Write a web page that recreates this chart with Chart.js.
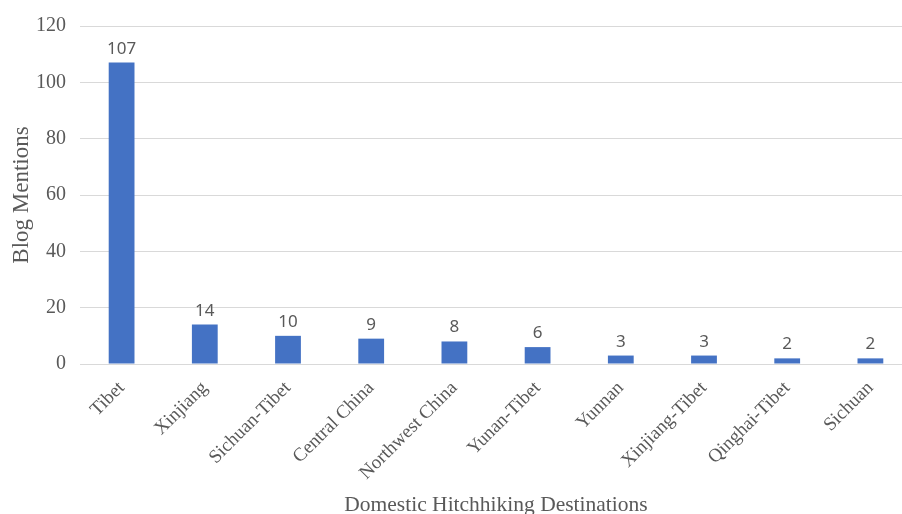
<!DOCTYPE html>
<html>
<head>
<meta charset="utf-8">
<script src="https://cdn.jsdelivr.net/npm/chart.js@4"></script>
<style>
  html, body { margin: 0; padding: 0; background: #fff; overflow: hidden; }
  #wrap { width: 912px; height: 518px; }
</style>
</head>
<body>
<div id="wrap"><canvas id="chart" width="912" height="518"></canvas></div>
<script>
const destinations = ["Tibet", "Xinjiang", "Sichuan-Tibet", "Central China", "Northwest China",
  "Yunan-Tibet", "Yunnan", "Xinjiang-Tibet", "Qinghai-Tibet", "Sichuan"];
const mentions = [107, 14, 10, 9, 8, 6, 3, 3, 2, 2];
const yTicks = [0, 20, 40, 60, 80, 100, 120];

const serif = "'Liberation Serif', 'Times New Roman', serif";
const textGray = "#595959";

// value labels above each bar
const valueLabels = {
  id: "valueLabels",
  afterDatasetsDraw(chart) {
    const ctx = chart.ctx;
    const meta = chart.getDatasetMeta(0);
    ctx.save();
    ctx.font = "17px 'Noto Sans', sans-serif";
    ctx.fillStyle = textGray;
    ctx.textAlign = "center";
    ctx.textBaseline = "alphabetic";
    meta.data.forEach((bar, i) => {
      ctx.fillText(String(mentions[i]), bar.x, bar.y - 9);
    });
    ctx.restore();
  }
};

new Chart(document.getElementById("chart"), {
  type: "bar",
  data: {
    labels: destinations,
    datasets: [{
      data: mentions,
      backgroundColor: "#4472C4",
      barPercentage: 0.31,
      categoryPercentage: 1
    }]
  },
  options: {
    responsive: false,
    animation: false,
    layout: { padding: { top: 6, left: 2, right: 0, bottom: 0 } },
    plugins: { legend: { display: false }, tooltip: { enabled: false } },
    scales: {
      y: {
        min: 0,
        max: 120,
        afterBuildTicks: (axis) => { axis.ticks = yTicks.map(v => ({ value: v })); },
        afterFit: (axis) => { axis.width = 78; },
        grid: { color: "#d9d9d9", drawTicks: false },
        border: { display: false },
        ticks: { color: textGray, font: { family: serif, size: 20 }, padding: 14 },
        title: { display: true, text: "Blog Mentions", color: textGray, font: { family: serif, size: 23 }, padding: { top: 6, bottom: 0 } }
      },
      x: {
        afterFit: (axis) => { axis.height = 154; },
        grid: { display: false },
        border: { color: "#d9d9d9" },
        ticks: { color: textGray, font: { family: serif, size: 19 }, maxRotation: 45, minRotation: 45, padding: 5 },
        title: { display: true, text: "Domestic Hitchhiking Destinations", color: textGray, font: { family: serif, size: 21.5 }, padding: { top: 0, bottom: 0 } }
      }
    }
  },
  plugins: [valueLabels]
});
</script>
</body>
</html>
